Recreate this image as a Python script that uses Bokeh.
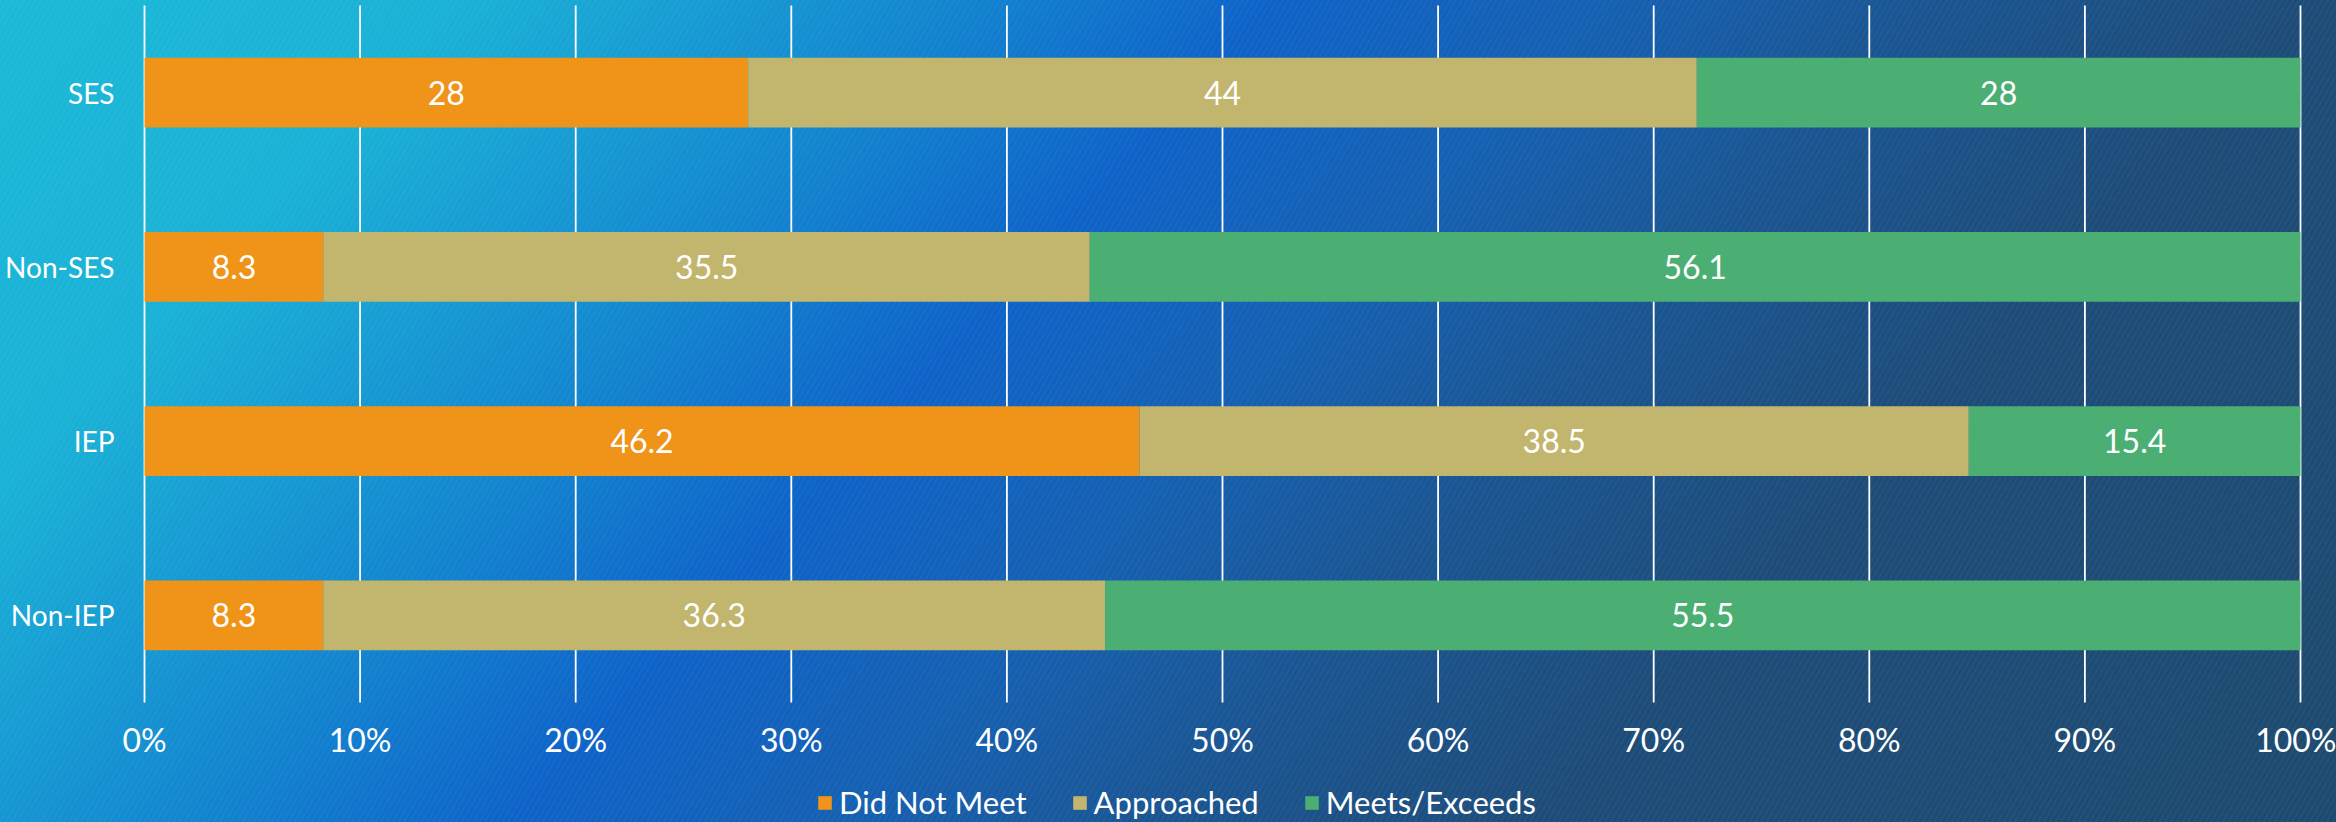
from bokeh.plotting import figure
from bokeh.models import (ColumnDataSource, Range1d, FixedTicker,
                          PrintfTickFormatter, GlobalInlineStyleSheet)
from bokeh.core.properties import value
from bokeh.embed import file_html
from bokeh.resources import INLINE

# ---- data ----
categories = ["SES", "Non-SES", "IEP", "Non-IEP"]
did_not_meet = [28, 8.3, 46.2, 8.3]
approached = [44, 35.5, 38.5, 36.3]
meets_exceeds = [28, 56.1, 15.4, 55.5]
series_names = ["Did Not Meet", "Approached", "Meets/Exceeds"]
series_colors = ["#EF9418", "#C2B56E", "#4BAF73"]
x_ticks = [0, 10, 20, 30, 40, 50, 60, 70, 80, 90, 100]

FONT = "Lato"
FS = "32px"

n = len(categories)
ypos = [n - 0.5 - i for i in range(n)]          # first category at top
series = [did_not_meet, approached, meets_exceeds]
keys = ["dnm", "app", "me"]
totals = [sum(v) for v in zip(*series)]
norm = {k: [v / t * 100 for v, t in zip(s, totals)] for k, s in zip(keys, series)}
src = ColumnDataSource(dict(y=ypos, **norm))

bg = ("repeating-linear-gradient(120deg, rgba(255,255,255,0.03) 0px, rgba(255,255,255,0.03) 2px, "
      "rgba(0,0,0,0) 2px, rgba(0,0,0,0) 5px), "
      "linear-gradient(133deg, #1bb9d7 0%, #1ab1d6 15%, #1698d3 24%, #1284cf 31%, "
      "#0e63c8 41%, #1560b2 52%, #1a5592 62%, #1d4c79 74%, #1e4a6f 100%)")
css = ("html, body { margin: 0; padding: 0; overflow: hidden; width: 2336px; height: 822px; "
       "background: " + bg + "; background-attachment: fixed; }")

# the frame covers the whole canvas; the data area [0,100] x [0,n] sits inside it
p = figure(width=2336, height=822, output_backend="svg", toolbar_location=None,
           y_range=Range1d(-0.6887, n + 0.0287), x_range=Range1d(-6.679, 101.67),
           min_border_left=0, min_border_right=0, min_border_top=0, min_border_bottom=0)
p.stylesheets = [GlobalInlineStyleSheet(css=css)]
p.background_fill_alpha = 0
p.border_fill_alpha = 0
p.outline_line_color = None
p.xgrid.grid_line_color = None
p.ygrid.grid_line_color = None

# vertical grid lines spanning only the category area
p.segment(x0=x_ticks, y0=[0] * len(x_ticks), x1=x_ticks, y1=[n] * len(x_ticks),
          line_color="white", line_width=1.8)

p.hbar_stack(keys, y="y", height=0.4, color=series_colors, source=src,
             legend_label=series_names, line_width=0)

# value labels
lx, ly, lt = [], [], []
for ci in range(n):
    left = 0.0
    for k, s in zip(keys, series):
        w = norm[k][ci]
        lx.append(left + w / 2)
        ly.append(ypos[ci])
        lt.append(format(s[ci], "g"))
        left += w
p.text(x=lx, y=ly, text=lt, text_align="center", text_baseline="middle",
       text_color="white", text_font=value(FONT), text_font_size=FS)

# axes (pinned to the data area)
p.xaxis.ticker = FixedTicker(ticks=x_ticks)
p.xaxis.formatter = PrintfTickFormatter(format="%d%%")
p.xaxis.fixed_location = 0
p.yaxis.ticker = FixedTicker(ticks=ypos)
p.yaxis.major_label_overrides = {y: c for y, c in zip(ypos, categories)}
p.yaxis.fixed_location = 0
for ax in (p.xaxis[0], p.yaxis[0]):
    ax.axis_line_color = None
    ax.major_tick_line_color = None
    ax.minor_tick_line_color = None
    ax.major_tick_out = 0
    ax.major_tick_in = 0
    ax.major_label_text_color = "white"
    ax.major_label_text_font = FONT
    ax.major_label_text_font_size = FS
p.yaxis.major_label_text_font_size = "28px"
p.xaxis.major_label_standoff = 18
p.yaxis.major_label_standoff = 30

lg = p.legend[0]
lg.orientation = "horizontal"
lg.location = (816, 1)
lg.padding = 0
lg.margin = 0
lg.background_fill_alpha = 0
lg.border_line_color = None
lg.label_text_color = "white"
lg.label_text_font = FONT
lg.label_text_font_size = "31px"
lg.glyph_width = 17
lg.glyph_height = 17
lg.label_standoff = 6
lg.spacing = 44

open("out.html", "w").write(file_html(p, INLINE))
